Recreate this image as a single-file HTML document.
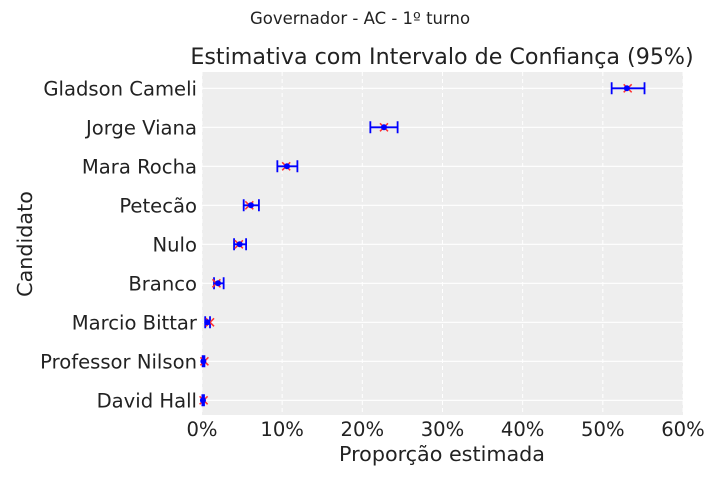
<!DOCTYPE html>
<html><head><meta charset="utf-8"><style>
body{margin:0;background:#fff;}
svg{display:block;font-family:"DejaVu Sans","Liberation Sans",sans-serif;}
</style></head><body>
<svg id="chart" width="720" height="480">
<text x="360" y="24" text-anchor="middle" font-size="16.5" fill="#222">Governador - AC - 1º turno</text>
<text x="442" y="64" text-anchor="middle" font-size="22.2" fill="#222">Estimativa com Intervalo de Confiança (95%)</text>
<rect x="202" y="72" width="481" height="343" fill="#eeeeee"/>
<g id="grid"></g><g id="ticks"></g><g id="marks"></g>
<text x="442" y="461" text-anchor="middle" font-size="20.7" fill="#222">Proporção estimada</text>
<text transform="translate(32,244) rotate(-90)" text-anchor="middle" font-size="20.7" fill="#222">Candidato</text>
</svg>
<script>
const categories=["Gladson Cameli","Jorge Viana","Mara Rocha","Petecão","Nulo","Branco","Marcio Bittar","Professor Nilson","David Hall"];
const estimates=[53.0,22.7,10.6,6.1,4.7,2.0,0.66,0.17,0.12];
const lowerBounds=[51.1,21.0,9.4,5.2,4.0,1.5,0.4,0.08,0.05];
const upperBounds=[55.2,24.4,11.9,7.1,5.5,2.7,1.0,0.3,0.25];
const observed=[53.1,22.7,10.5,5.9,4.6,1.8,1.0,0.3,0.2];
const xTicks=[0,10,20,30,40,50,60];
const NS="http://www.w3.org/2000/svg";
const x0=202,x1=683,xMax=60;
const xs=v=>x0+(v/xMax)*(x1-x0);
const ys=i=>88.3+i*39;
function mk(parent,tag,attrs){const e=document.createElementNS(NS,tag);for(const k in attrs)e.setAttribute(k,attrs[k]);document.getElementById(parent).appendChild(e);return e;}
xTicks.forEach(t=>{
  const g=mk('grid','line',{x1:xs(t),x2:xs(t),y1:72,y2:415,stroke:'#fff','stroke-width':1,'stroke-dasharray':'4,3'});
  
  
  const l=mk('ticks','text',{x:xs(t),y:436,'text-anchor':'middle','font-size':19.6,fill:'#222'});
  l.textContent=t+'%';
  
  
});
categories.forEach((c,i)=>{
  const y=ys(i);
  const g=mk('grid','line',{x1:x0,x2:x1,y1:y,y2:y,stroke:'#fff','stroke-width':1.2});
  
  
  const l=mk('ticks','text',{x:197,y:y+7,'text-anchor':'end','font-size':19.6,fill:'#222'});
  l.textContent=c;
  
  
  const lo=xs(lowerBounds[i]),hi=xs(upperBounds[i]);
  const e=mk('marks','path',{d:`M${lo},${y}H${hi}M${lo},${y-6}V${y+6}M${hi},${y-6}V${y+6}`,stroke:'#0000ff','stroke-width':1.8,fill:'none'});
  
  
  const ox=xs(observed[i]);
  const r=mk('marks','path',{d:`M${ox-4},${y-4}L${ox+4},${y+4}M${ox-4},${y+4}L${ox+4},${y-4}`,stroke:'#ff3030','stroke-width':1.5});
  
  
  const d=mk('marks','circle',{cx:xs(estimates[i]),cy:y,r:3,fill:'#0000ff'});
  
  
});
</script>
</body></html>
